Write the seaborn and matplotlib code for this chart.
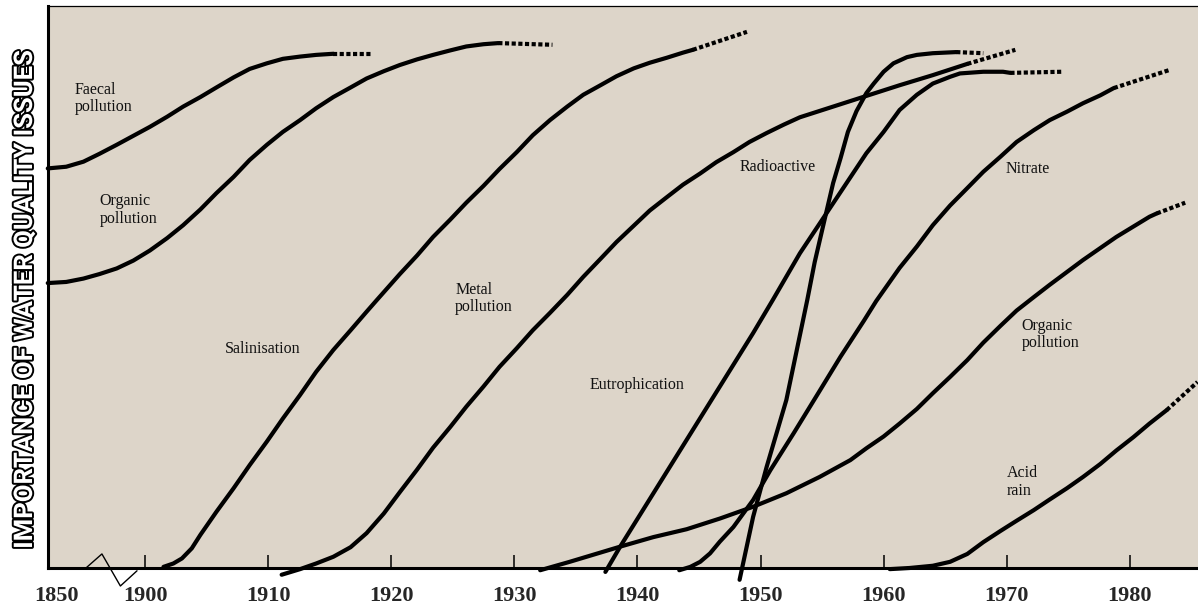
import matplotlib
matplotlib.use("Agg")
import matplotlib.pyplot as plt
import matplotlib.patheffects as pe
import seaborn as sns

# Year axis is broken: 1850 is squeezed in just before 1900.
# Importance is a relative 0-100 scale (no ticks on the original).
# The last point of every curve is the end of its dashed "projection".
faecal_x = [1892.1, 1893.6, 1895.0, 1896.3, 1897.7, 1899.05, 1900.4, 1901.8, 1903.1, 1904.5,
            1905.8, 1907.2, 1908.5, 1909.9, 1911.2, 1912.6, 1913.9, 1915.3, 1918.5]
faecal_y = [71.1, 71.4, 72.3, 73.7, 75.3, 76.9, 78.5, 80.3, 82.1, 83.8,
            85.5, 87.3, 88.8, 89.8, 90.6, 91.0, 91.3, 91.5, 91.5]

organic1_x = [1892.1, 1893.6, 1895.0, 1896.3, 1897.7, 1899.05, 1900.4, 1901.8, 1903.1, 1904.5,
              1905.8, 1907.2, 1908.5, 1909.9, 1911.2, 1912.6, 1913.9, 1915.3, 1916.7, 1918.0,
              1919.4, 1920.7, 1922.1, 1923.4, 1924.8, 1926.1, 1927.5, 1928.7, 1933.1]
organic1_y = [50.7, 50.9, 51.5, 52.3, 53.3, 54.7, 56.5, 58.7, 61.0, 63.8,
              66.7, 69.6, 72.6, 75.3, 77.6, 79.7, 81.8, 83.8, 85.5, 87.1,
              88.4, 89.5, 90.5, 91.3, 92.1, 92.8, 93.2, 93.4, 93.1]

salin_x = [1901.5, 1902.3, 1903.0, 1903.8, 1904.5, 1905.8, 1907.2, 1908.5, 1909.9, 1911.2,
           1912.6, 1913.9, 1915.3, 1916.7, 1918.0, 1918.8, 1920.7, 1922.1, 1923.4, 1924.8,
           1926.1, 1927.5, 1928.8, 1930.2, 1931.5, 1932.9, 1934.3, 1935.6, 1937.0, 1938.3,
           1939.7, 1941.0, 1942.4, 1943.7, 1944.5, 1948.9]
salin_y = [0.2, 0.8, 1.7, 3.5, 5.9, 10.0, 14.2, 18.3, 22.5, 26.6,
           30.8, 34.9, 38.8, 42.3, 45.6, 47.6, 52.3, 55.6, 58.9, 62.0,
           65.0, 68.0, 71.0, 74.0, 77.0, 79.7, 82.1, 84.2, 85.9, 87.5,
           88.9, 89.9, 90.8, 91.7, 92.2, 95.4]

metal_x = [1911.1, 1912.6, 1913.9, 1915.3, 1916.7, 1918.0, 1919.4, 1920.7, 1922.1, 1923.4,
           1924.8, 1926.1, 1927.5, 1928.8, 1930.2, 1931.5, 1932.9, 1934.3, 1935.6, 1937.0,
           1938.3, 1939.7, 1941.0, 1942.4, 1943.7, 1945.1, 1946.4, 1947.8, 1949.1, 1950.5,
           1951.9, 1953.2, 1955.9, 1958.6, 1961.3, 1964.0, 1966.8, 1970.7]
metal_y = [-1.2, -0.2, 0.8, 2.0, 3.7, 6.2, 9.7, 13.5, 17.5, 21.4,
           25.1, 28.7, 32.3, 35.8, 39.1, 42.3, 45.4, 48.6, 51.8, 55.0,
           58.0, 60.9, 63.6, 66.0, 68.2, 70.2, 72.2, 74.0, 75.8, 77.4,
           78.9, 80.2, 82.1, 84.0, 85.9, 87.7, 89.7, 92.2]

organic2_x = [1932.1, 1934.5, 1938.6, 1941.3, 1944.0, 1946.7, 1949.4, 1952.1, 1954.8, 1957.3,
              1958.6, 1960.0, 1961.3, 1962.7, 1964.0, 1965.4, 1966.8, 1968.1, 1969.5, 1970.8,
              1972.2, 1973.5, 1976.2, 1978.9, 1981.6, 1982.2, 1984.5]
organic2_y = [-0.4, 1.1, 3.8, 5.5, 6.9, 8.8, 10.9, 13.3, 16.2, 19.2,
              21.3, 23.4, 25.7, 28.3, 31.1, 34.0, 37.0, 40.1, 43.1, 45.8,
              48.2, 50.4, 54.8, 58.9, 62.5, 63.1, 65.0]

eutro_x = [1937.4, 1938.6, 1941.3, 1944.0, 1946.7, 1949.4, 1951.0, 1953.2, 1955.9, 1958.6,
           1960.0, 1961.3, 1962.7, 1964.0, 1965.4, 1966.2, 1968.1, 1969.7, 1970.3, 1974.5]
eutro_y = [-0.7, 3.8, 13.3, 22.8, 32.3, 41.8, 47.7, 56.0, 64.9, 73.8,
           77.6, 81.5, 84.2, 86.2, 87.4, 88.0, 88.3, 88.3, 88.1, 88.3]

nitrate_x = [1943.4, 1944.3, 1945.1, 1945.9, 1946.7, 1947.8, 1949.4, 1950.8, 1952.7, 1954.8,
             1956.5, 1958.4, 1959.4, 1961.3, 1962.7, 1964.0, 1965.4, 1966.8, 1968.1, 1969.5,
             1970.8, 1972.2, 1973.5, 1974.9, 1976.2, 1977.6, 1978.7, 1983.2]
nitrate_y = [-0.4, 0.2, 1.1, 2.6, 4.7, 7.3, 12.1, 17.4, 24.0, 31.5,
             37.6, 44.0, 47.5, 53.4, 57.2, 61.0, 64.5, 67.6, 70.5, 73.2,
             75.8, 77.9, 79.7, 81.2, 82.7, 84.1, 85.4, 88.6]

radio_x = [1948.3, 1949.4, 1950.5, 1952.1, 1953.8, 1954.4, 1955.1, 1955.9, 1956.5, 1957.1,
           1957.8, 1958.6, 1959.2, 1960.0, 1960.8, 1961.9, 1962.7, 1964.0, 1965.9, 1968.1]
radio_y = [-2.1, 9.1, 18.0, 29.9, 47.7, 54.4, 61.0, 68.5, 72.9, 77.6,
           81.3, 84.5, 86.2, 88.3, 89.8, 90.9, 91.3, 91.6, 91.8, 91.6]

acid_x = [1960.5, 1962.1, 1964.0, 1965.4, 1966.8, 1968.1, 1969.5, 1970.8, 1972.2, 1973.5,
          1974.9, 1976.2, 1977.6, 1978.9, 1980.3, 1981.6, 1983.0, 1985.5]
acid_y = [-0.2, 0.0, 0.4, 1.1, 2.5, 4.6, 6.6, 8.4, 10.3, 12.2,
          14.2, 16.2, 18.5, 20.9, 23.3, 25.7, 28.1, 33.1]

curves = [(faecal_x, faecal_y), (organic1_x, organic1_y), (salin_x, salin_y),
          (metal_x, metal_y), (organic2_x, organic2_y), (eutro_x, eutro_y),
          (nitrate_x, nitrate_y), (radio_x, radio_y), (acid_x, acid_y)]

tick_years = [1892.85, 1900, 1910, 1920, 1930, 1940, 1950, 1960, 1970, 1980]
tick_labels = ["1850", "1900", "1910", "1920", "1930", "1940", "1950", "1960", "1970", "1980"]

labels = [("Faecal\npollution", 1894.3, 83.6), ("Organic\npollution", 1896.3, 63.7),
          ("Salinisation", 1906.5, 39.0), ("Metal\npollution", 1925.2, 48.0),
          ("Radioactive", 1948.3, 71.4), ("Eutrophication", 1936.1, 32.6),
          ("Nitrate", 1969.9, 71.0), ("Organic\npollution", 1971.2, 41.6),
          ("Acid\nrain", 1970.0, 15.3)]

sns.set_style("white")
plt.rcParams["font.family"] = ["Liberation Serif", "DejaVu Serif"]

fig = plt.figure(figsize=(11.98, 6.12), dpi=100)
ax = fig.add_axes([48 / 1198, 44 / 612, 1150 / 1198, 562 / 612])
ax.set_facecolor("#ddd5c9")

for xs, ys in curves:
    sns.lineplot(x=xs[:-1], y=ys[:-1], sort=False, estimator=None, color="black",
                 lw=3, ax=ax, clip_on=False, solid_capstyle="round", solid_joinstyle="round")
    sns.lineplot(x=xs[-2:], y=ys[-2:], sort=False, estimator=None, color="black",
                 lw=3, ax=ax, clip_on=False, linestyle=(0, (1.0, 0.6)))

for txt, x, y in labels:
    ax.text(x, y, txt, fontsize=11.5, ha="left", va="center", color="#111111", linespacing=1.1)

ax.set_xlim(1892.12, 1985.54)
ax.set_ylim(0, 100)
ax.set_yticks([])
ax.set_xticks(tick_years)
ax.set_xticklabels(tick_labels, fontsize=16, fontweight="bold")
ax.tick_params(axis="x", direction="in", length=9.5, width=1.1, pad=13, color="black", bottom=True)
ax.xaxis.get_major_ticks()[0].tick1line.set_visible(False)
ax.set_xlabel("")
ax.set_ylabel("")

for side in ["left", "bottom"]:
    ax.spines[side].set_linewidth(2.2)
    ax.spines[side].set_color("black")
ax.spines["top"].set_linewidth(0.9)
ax.spines["top"].set_color("black")
ax.spines["right"].set_visible(False)

# axis break symbol between 1850 and 1900
ax.plot([1895.1, 1896.5, 1898.0, 1899.35], [-0.2, 2.5, -3.2, -0.5],
        color="black", lw=1.0, clip_on=False)

fig.text(25 / 1198, 1 - 299 / 612, "IMPORTANCE OF WATER QUALITY ISSUES",
         rotation=90, ha="center", va="center", fontsize=18.5, fontweight="bold",
         family=["Roboto", "DejaVu Sans"], color="white",
         path_effects=[pe.withStroke(linewidth=2.8, foreground="black")])

fig.savefig("out.png", dpi=100, facecolor="white")
